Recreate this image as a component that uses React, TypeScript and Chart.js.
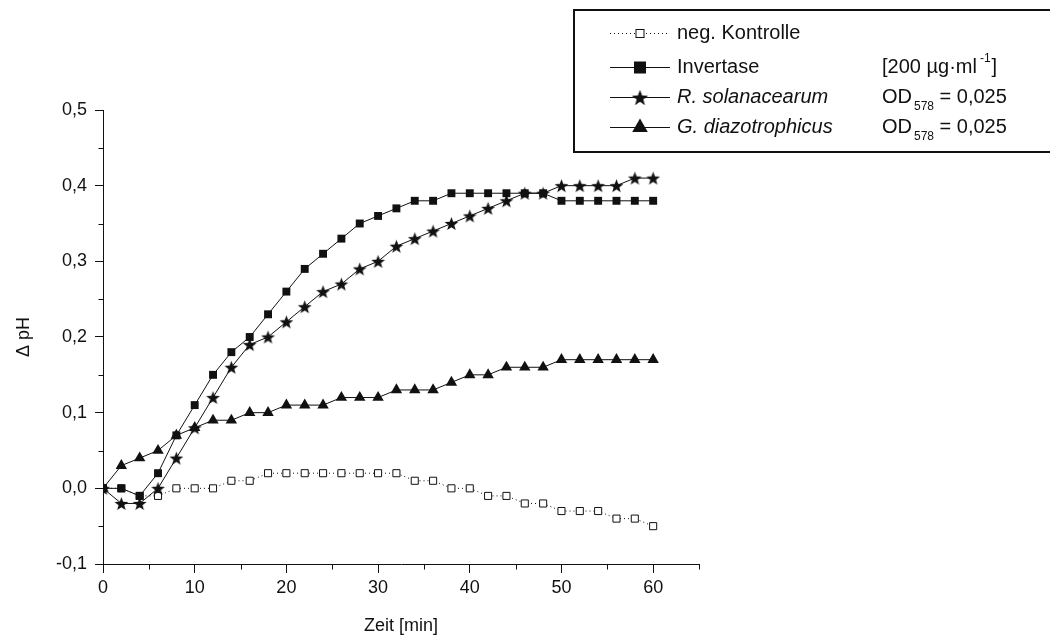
import React, { useEffect, useRef } from 'react';
import { Chart, registerables } from 'chart.js';

Chart.register(...registerables);

// ---- data ----
const timeMin = [0, 2, 4, 6, 8, 10, 12, 14, 16, 18, 20, 22, 24, 26, 28, 30, 32, 34, 36, 38, 40, 42, 44, 46, 48, 50, 52, 54, 56, 58, 60];
const negKontrolle = [0, 0, -0.01, -0.01, 0, 0, 0, 0.01, 0.01, 0.02, 0.02, 0.02, 0.02, 0.02, 0.02, 0.02, 0.02, 0.01, 0.01, 0, 0, -0.01, -0.01, -0.02, -0.02, -0.03, -0.03, -0.03, -0.04, -0.04, -0.05];
const invertase = [0, 0, -0.01, 0.02, 0.07, 0.11, 0.15, 0.18, 0.2, 0.23, 0.26, 0.29, 0.31, 0.33, 0.35, 0.36, 0.37, 0.38, 0.38, 0.39, 0.39, 0.39, 0.39, 0.39, 0.39, 0.38, 0.38, 0.38, 0.38, 0.38, 0.38];
const rSolanacearum = [0, -0.02, -0.02, 0, 0.04, 0.08, 0.12, 0.16, 0.19, 0.2, 0.22, 0.24, 0.26, 0.27, 0.29, 0.3, 0.32, 0.33, 0.34, 0.35, 0.36, 0.37, 0.38, 0.39, 0.39, 0.4, 0.4, 0.4, 0.4, 0.41, 0.41];
const gDiazotrophicus = [0, 0.03, 0.04, 0.05, 0.07, 0.08, 0.09, 0.09, 0.1, 0.1, 0.11, 0.11, 0.11, 0.12, 0.12, 0.12, 0.13, 0.13, 0.13, 0.14, 0.15, 0.15, 0.16, 0.16, 0.16, 0.17, 0.17, 0.17, 0.17, 0.17, 0.17];

const seriesLabels = ['neg. Kontrolle', 'Invertase', 'R. solanacearum', 'G. diazotrophicus'];
const xTickValues = [0, 10, 20, 30, 40, 50, 60];
const xMinorTickValues = [5, 15, 25, 35, 45, 55, 65];
const yTickValues = [-0.1, 0, 0.1, 0.2, 0.3, 0.4, 0.5];
const yMinorTickValues = [-0.05, 0.05, 0.15, 0.25, 0.35, 0.45];
const xAxisTitle = 'Zeit [min]';
const yAxisTitle = 'Δ pH';
const concText = '[200 µg·ml';
const concSup = '-1';
const odText = 'OD';
const odSub = '578';
const odValue = ' = 0,025';

const INK = '#111111';
const FONT = '"Liberation Sans", Arial, Helvetica, sans-serif';

function drawStarPath(ctx: CanvasRenderingContext2D, cx: number, cy: number, R: number, r: number) {
  ctx.beginPath();
  for (let i = 0; i < 10; i++) {
    const rad = i % 2 === 0 ? R : r;
    const a = -Math.PI / 2 + (i * Math.PI) / 5;
    const x = cx + rad * Math.cos(a);
    const y = cy + rad * Math.sin(a);
    if (i === 0) ctx.moveTo(x, y);
    else ctx.lineTo(x, y);
  }
  ctx.closePath();
}

function makeStarCanvas(R: number, r: number): HTMLCanvasElement {
  const size = Math.ceil(R * 2 + 4);
  const c = document.createElement('canvas');
  c.width = size;
  c.height = size;
  const ctx = c.getContext('2d')!;
  ctx.fillStyle = INK;
  drawStarPath(ctx, size / 2, size / 2 + R * 0.1, R, r);
  ctx.fill();
  return c;
}

function drawMarker(ctx: CanvasRenderingContext2D, kind: string, x: number, y: number, star: HTMLCanvasElement) {
  ctx.save();
  ctx.strokeStyle = INK;
  ctx.lineWidth = 1;
  if (kind === 'open') {
    ctx.fillStyle = '#fff';
    ctx.fillRect(x - 4, y - 4, 8, 8);
    ctx.strokeRect(x - 4, y - 4, 8, 8);
  } else if (kind === 'square') {
    ctx.fillStyle = INK;
    ctx.fillRect(x - 6, y - 6, 12, 12);
  } else if (kind === 'star') {
    ctx.drawImage(star, x - star.width / 2, y - star.height / 2);
  } else if (kind === 'triangle') {
    ctx.fillStyle = INK;
    const r = 9;
    ctx.beginPath();
    ctx.moveTo(x, y - r);
    ctx.lineTo(x + r * Math.sin((2 * Math.PI) / 3), y + r / 2);
    ctx.lineTo(x - r * Math.sin((2 * Math.PI) / 3), y + r / 2);
    ctx.closePath();
    ctx.fill();
  }
  ctx.restore();
}

export default function App() {
  const ref = useRef<HTMLCanvasElement>(null);

  useEffect(() => {
    const canvas = ref.current;
    if (!canvas) return;
    const star = makeStarCanvas(7.2, 3.0);
    const legendStar = makeStarCanvas(8.5, 3.5);
    const toXY = (arr: number[]) => timeMin.map((t, i) => ({ x: t, y: arr[i] }));

    const extras = {
      id: 'extras',
      afterDraw(chart: any) {
        const ctx: CanvasRenderingContext2D = chart.ctx;
        const xs = chart.scales.x;
        const ys = chart.scales.y;
        ctx.save();
        // minor ticks
        ctx.strokeStyle = INK;
        ctx.lineWidth = 1;
        ctx.beginPath();
        const bottom = Math.round(ys.getPixelForValue(-0.1)) + 0.5;
        const left = Math.round(xs.getPixelForValue(0)) + 0.5;
        xMinorTickValues.forEach((v) => {
          const px = Math.round(xs.getPixelForValue(v)) + 0.5;
          ctx.moveTo(px, bottom);
          ctx.lineTo(px, bottom + 5);
        });
        yMinorTickValues.forEach((v) => {
          const py = Math.round(ys.getPixelForValue(v)) + 0.5;
          ctx.moveTo(left, py);
          ctx.lineTo(left - 5, py);
        });
        ctx.stroke();

        // legend box
        ctx.lineWidth = 2;
        ctx.strokeRect(574, 10, 490, 142);

        const rows = [33, 67, 97, 127];
        const kinds = ['open', 'square', 'star', 'triangle'];
        const x0 = 610;
        const x1 = 670;
        const xm = 640;
        rows.forEach((ry, i) => {
          ctx.save();
          ctx.strokeStyle = INK;
          ctx.lineWidth = 1;
          if (i === 0) ctx.setLineDash([1, 3]);
          ctx.beginPath();
          ctx.moveTo(x0, ry + 0.5);
          ctx.lineTo(x1, ry + 0.5);
          ctx.stroke();
          ctx.restore();
          drawMarker(ctx, kinds[i], xm, ry + 0.5, legendStar);

          ctx.fillStyle = INK;
          ctx.textBaseline = 'middle';
          ctx.textAlign = 'left';
          ctx.font = (i >= 2 ? 'italic ' : '') + '20px ' + FONT;
          ctx.fillText(seriesLabels[i], 677, ry);
        });

        // second column
        ctx.font = '20px ' + FONT;
        ctx.textBaseline = 'middle';
        let cx = 882;
        ctx.fillText(concText, cx, rows[1]);
        cx += ctx.measureText(concText).width + 3;
        ctx.font = '12px ' + FONT;
        ctx.fillText(concSup, cx, rows[1] - 8);
        cx += ctx.measureText(concSup).width + 1;
        ctx.font = '20px ' + FONT;
        ctx.fillText(']', cx, rows[1]);

        [rows[2], rows[3]].forEach((ry) => {
          let tx = 882;
          ctx.font = '20px ' + FONT;
          ctx.fillText(odText, tx, ry);
          tx += ctx.measureText(odText).width + 2;
          ctx.font = '12px ' + FONT;
          ctx.fillText(odSub, tx, ry + 10);
          tx += ctx.measureText(odSub).width;
          ctx.font = '20px ' + FONT;
          ctx.fillText(odValue, tx, ry);
        });
        ctx.restore();
      },
    };

    const chart = new Chart(canvas, {
      type: 'line',
      data: {
        datasets: [
          {
            label: seriesLabels[0],
            data: toXY(negKontrolle),
            borderColor: INK,
            borderWidth: 1,
            borderDash: [1, 3],
            pointStyle: 'rect',
            pointRadius: 5,
            pointBackgroundColor: '#ffffff',
            pointBorderColor: INK,
            pointBorderWidth: 1,
            order: 4,
          },
          {
            label: seriesLabels[1],
            data: toXY(invertase),
            borderColor: INK,
            borderWidth: 1,
            pointStyle: 'rect',
            pointRadius: 5.6,
            pointBackgroundColor: INK,
            pointBorderColor: INK,
            pointBorderWidth: 0,
            order: 3,
          },
          {
            label: seriesLabels[2],
            data: toXY(rSolanacearum),
            borderColor: INK,
            borderWidth: 1,
            pointStyle: star as any,
            pointRadius: 7,
            order: 2,
          },
          {
            label: seriesLabels[3],
            data: toXY(gDiazotrophicus),
            borderColor: INK,
            borderWidth: 1,
            pointStyle: 'triangle',
            pointRadius: 6.6,
            pointBackgroundColor: INK,
            pointBorderColor: INK,
            pointBorderWidth: 0,
            order: 1,
          },
        ],
      },
      options: {
        responsive: false,
        animation: false,
        events: [],
        layout: { padding: { top: 110, right: 351, bottom: 0, left: 0 } },
        elements: { line: { tension: 0 } },
        plugins: {
          legend: { display: false },
          tooltip: { enabled: false },
        },
        scales: {
          x: {
            type: 'linear',
            min: 0,
            max: 65,
            afterFit: (s: any) => {
              s.height = 77;
            },
            afterBuildTicks: (s: any) => {
              s.ticks = xTickValues.map((v) => ({ value: v }));
            },
            ticks: {
              color: INK,
              font: { family: FONT, size: 18 },
              padding: 4,
              maxRotation: 0,
              callback: (v: any) => String(v),
            },
            grid: {
              display: true,
              drawOnChartArea: false,
              drawTicks: true,
              tickLength: 9,
              color: INK,
              lineWidth: 1,
            },
            border: { display: true, color: INK, width: 1 },
            title: {
              display: true,
              text: xAxisTitle,
              color: INK,
              font: { family: FONT, size: 18 },
              padding: { top: 0, bottom: 4 },
            },
          },
          y: {
            type: 'linear',
            min: -0.1,
            max: 0.5,
            afterFit: (s: any) => {
              s.width = 103;
            },
            afterBuildTicks: (s: any) => {
              s.ticks = yTickValues.map((v) => ({ value: v }));
            },
            ticks: {
              color: INK,
              font: { family: FONT, size: 18 },
              padding: 8,
              callback: (v: any) => Number(v).toFixed(1).replace('.', ','),
            },
            grid: {
              display: true,
              drawOnChartArea: false,
              drawTicks: true,
              tickLength: 8,
              color: INK,
              lineWidth: 1,
            },
            border: { display: true, color: INK, width: 1 },
            title: {
              display: true,
              text: yAxisTitle,
              color: INK,
              font: { family: FONT, size: 18 },
              padding: { top: 13, bottom: 0 },
            },
          },
        },
      },
      plugins: [extras],
    } as any);

    return () => chart.destroy();
  }, []);

  return (
    <div style={{ position: 'absolute', left: 0, top: 0, width: 1050, height: 641, background: '#ffffff' }}>
      <canvas ref={ref} width={1050} height={641} style={{ display: 'block' }} />
    </div>
  );
}
